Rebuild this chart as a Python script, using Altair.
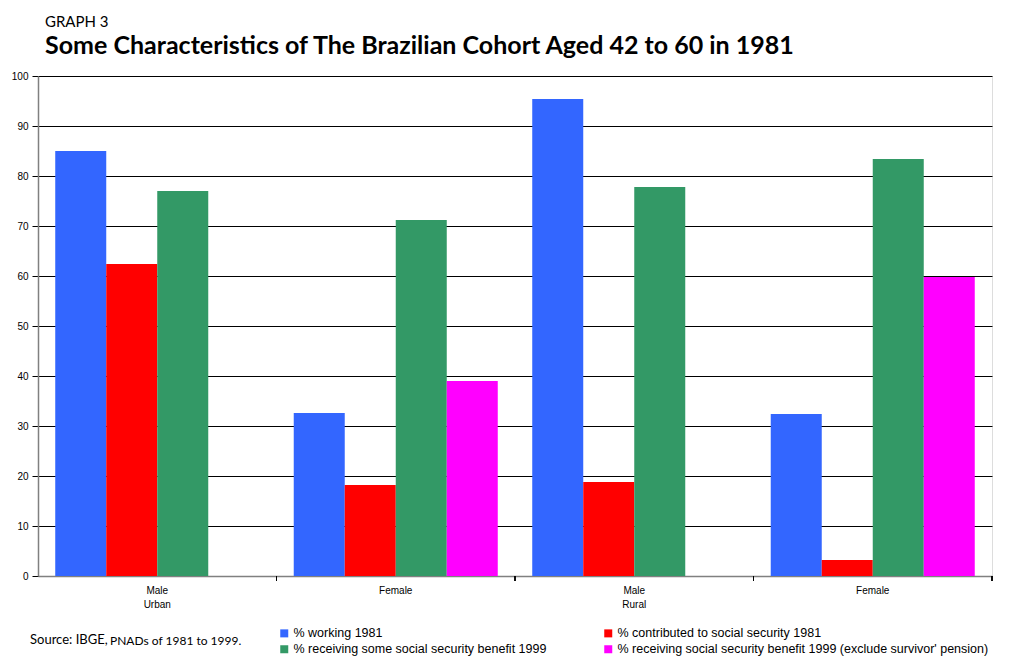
import altair as alt
import pandas as pd

groups = ["Male Urban", "Female Urban", "Male Rural", "Female Rural"]
series = [
    "% working 1981",
    "% contributed to social security 1981",
    "% receiving some social security benefit 1999",
    "% receiving social security benefit 1999 (exclude survivor' pension)",
]
colors = ["#3366FF", "#FF0000", "#339966", "#FF00FF"]

working_1981 = [85.0, 32.6, 95.4, 32.4]
contributed_1981 = [62.4, 18.2, 18.8, 3.2]
receiving_some_1999 = [77.0, 71.2, 77.8, 83.4]
receiving_excl_1999 = [None, 39.0, None, 59.8]

rows = []
for vals, s in zip([working_1981, contributed_1981, receiving_some_1999, receiving_excl_1999], series):
    for g, v in zip(groups, vals):
        if v is not None:
            rows.append({"group": g, "series": s, "value": v})
df = pd.DataFrame(rows)

# legend fills column-wise: order entries so rows read (working, contributed), (some, excl)
legend_order = [series[0], series[2], series[1], series[3]]
legend_colors = [colors[0], colors[2], colors[1], colors[3]]

FONT = "Liberation Sans"
TFONT = "Lato"

label_expr = ("datum.value == 'Male Urban' ? ['Male', 'Urban'] : "
              "datum.value == 'Male Rural' ? ['Male', 'Rural'] : 'Female'")

x_scale = alt.Scale(domain=groups, paddingInner=0, paddingOuter=0)

bars = alt.Chart(df).mark_bar().encode(
    x=alt.X("group:N", scale=x_scale, sort=groups, title=None,
            axis=alt.Axis(labelExpr=label_expr, labelAngle=0, ticks=False,
                          domainColor="#808080", domainWidth=1.5,
                          labelFont=FONT, labelFontSize=10, labelColor="#000",
                          labelLineHeight=14, labelPadding=9, labelBaseline="top")),
    xOffset=alt.XOffset("series:N", sort=series,
                        scale=alt.Scale(domain=series, paddingInner=0, paddingOuter=0.338)),
    y=alt.Y("value:Q", scale=alt.Scale(domain=[0, 100]), title=None,
            axis=alt.Axis(values=list(range(0, 101, 10)), grid=True, gridColor="#000",
                          gridWidth=1, domainColor="#808080", domainWidth=1.5,
                          tickColor="#000", tickSize=6, labelFont=FONT, labelFontSize=10,
                          labelColor="#000", labelPadding=4)),
    color=alt.Color("series:N",
                    scale=alt.Scale(domain=legend_order, range=legend_colors),
                    legend=alt.Legend(title=None, orient="none", legendX=240, legendY=551,
                                      columns=2, columnPadding=55, rowPadding=3,
                                      symbolType="square", symbolSize=64,
                                      symbolStrokeWidth=0, labelFont=FONT,
                                      labelFontSize=12.5, labelColor="#000",
                                      labelLimit=500, padding=0, labelOffset=3)),
)

ticks = alt.Chart(df).mark_rule(color="#000", strokeWidth=1).encode(
    x=alt.X("group:N", scale=x_scale, sort=groups, bandPosition=1),
    y=alt.value(500),
    y2=alt.value(505),
)

src = pd.DataFrame({"t": ["Source: IBGE,"], "u": ["PNADs of 1981 to 1999."]})
source1 = alt.Chart(src).mark_text(align="left", baseline="middle", font=TFONT,
                                   fontSize=13, color="#000").encode(
    text="t:N", x=alt.value(-8), y=alt.value(564))
source2 = alt.Chart(src).mark_text(align="left", baseline="middle", font=TFONT,
                                   fontSize=12, color="#000").encode(
    text="u:N", x=alt.value(72), y=alt.value(565))

chart = alt.layer(bars, ticks, source1, source2).properties(
    width=954,
    height=500,
    autosize=alt.AutoSizeParams(type="none"),
    padding={"left": 30, "top": 68, "right": 14, "bottom": 84},
    title=alt.TitleParams(
        text="GRAPH 3",
        subtitle="Some Characteristics of The Brazilian Cohort Aged 42 to 60 in 1981",
        anchor="start", frame="group", dx=7, offset=12,
        font=TFONT, fontSize=15, fontWeight="normal", color="#000",
        subtitleFont=TFONT, subtitleFontSize=25, subtitleFontWeight="bold",
        subtitleColor="#000", subtitlePadding=4,
    ),
).configure_view(stroke=None).configure(background="white")

chart.save("out.html", embed_options={"renderer": "svg", "actions": False})
